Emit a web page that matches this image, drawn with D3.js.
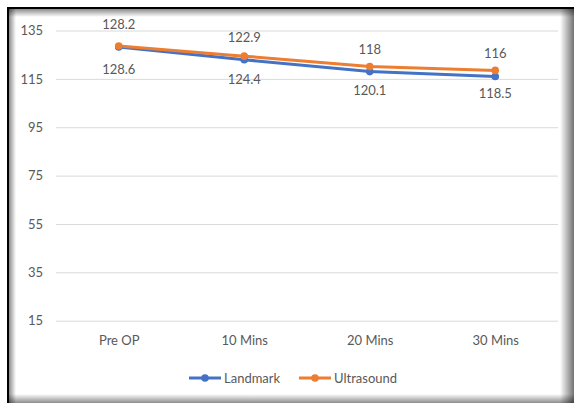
<!DOCTYPE html>
<html>
<head>
<meta charset="utf-8">
<script src="https://cdn.jsdelivr.net/npm/d3@7"></script>
<style>
  html, body { margin: 0; padding: 0; background: #ffffff; }
  svg { display: block; }
  text { font-family: Lato, "Open Sans", sans-serif; fill: #595959; }
</style>
</head>
<body>
<script>
// Time points and mean values for each technique
const categories = ["Pre OP", "10 Mins", "20 Mins", "30 Mins"];
const landmark = [128.2, 122.9, 118, 116];
const ultrasound = [128.6, 124.4, 120.1, 118.5];
const yTicks = [15, 35, 55, 75, 95, 115, 135];
const seriesNames = ["Landmark", "Ultrasound"];
const seriesColors = ["#4472C4", "#ED7D31"];

(function () {
const W = 574, H = 403;
const svg = d3.select("body").append("svg").attr("width", W).attr("height", H);

// Frame with inner and drop shadows
const defs = svg.append("defs");
function grad(id, x1, y1, x2, y2, stops) {
  const g = defs.append("linearGradient").attr("id", id)
    .attr("x1", x1).attr("y1", y1).attr("x2", x2).attr("y2", y2);
  stops.forEach(s => g.append("stop").attr("offset", s[0]).attr("stop-color", s[1]).attr("stop-opacity", s[2]));
}
grad("shTop", 0, 0, 0, 1, [[0, "#000", 0.45], [1, "#000", 0]]);
grad("shLeft", 0, 0, 1, 0, [[0, "#000", 0.45], [1, "#000", 0]]);
grad("shRight", 0, 0, 1, 0, [[0, "#000", 0], [1, "#000", 0.55]]);
grad("shBottom", 0, 0, 0, 1, [[0, "#000", 0], [1, "#000", 0.45]]);

svg.append("rect").attr("x", 0).attr("y", 0).attr("width", W).attr("height", H).attr("fill", "#fff");
svg.append("rect").attr("x", 9).attr("y", 9).attr("width", W - 9).attr("height", 8).attr("fill", "url(#shTop)");
svg.append("rect").attr("x", 9).attr("y", 9).attr("width", 7).attr("height", H - 9).attr("fill", "url(#shLeft)");
svg.append("rect").attr("x", W - 14).attr("y", 9).attr("width", 14).attr("height", H - 9).attr("fill", "url(#shRight)");
svg.append("rect").attr("x", 9).attr("y", H - 9).attr("width", W - 9).attr("height", 9).attr("fill", "url(#shBottom)");
svg.append("line").attr("x1", 7).attr("x2", W).attr("y1", 8).attr("y2", 8).attr("stroke", "#000").attr("stroke-width", 2);
svg.append("line").attr("x1", 8).attr("x2", 8).attr("y1", 7).attr("y2", H).attr("stroke", "#000").attr("stroke-width", 2);

// Plot area
const pLeft = 56, pRight = 558, pTop = 30.5, pBottom = 320.7;
const x = d3.scalePoint().domain(categories).range([pLeft, pRight]).padding(0.5);
const y = d3.scaleLinear().domain([15, 135]).range([pBottom, pTop]);

// Gridlines and value axis labels
const yAxis = d3.axisLeft(y).tickValues(yTicks).tickSize(-(pRight - pLeft)).tickPadding(13).tickFormat(d3.format("d"));
const gy = svg.append("g").attr("transform", `translate(${pLeft},0)`).call(yAxis);
gy.select(".domain").remove();
gy.selectAll(".tick line").attr("stroke", "#d9d9d9").attr("stroke-width", 1);
gy.selectAll(".tick text").attr("font-size", 13).attr("fill", "#595959").style("font-family", "Lato, sans-serif");

// Category axis labels
const xAxis = d3.axisBottom(x).tickSize(0).tickPadding(15);
const gx = svg.append("g").attr("transform", `translate(0,${pBottom})`).call(xAxis);
gx.select(".domain").remove();
gx.selectAll(".tick text").attr("font-size", 13).attr("fill", "#595959").style("font-family", "Lato, sans-serif");

// Series lines, markers and value labels
const series = [landmark, ultrasound];
const labelOffset = [-23, 23];
const line = d3.line().x((d, i) => x(categories[i])).y(d => y(d));
series.forEach((vals, s) => {
  svg.append("path").datum(vals).attr("d", line)
    .attr("fill", "none").attr("stroke", seriesColors[s]).attr("stroke-width", 3).attr("stroke-linejoin", "round");
});
series.forEach((vals, s) => {
  svg.selectAll(null).data(vals).enter().append("circle")
    .attr("cx", (d, i) => x(categories[i])).attr("cy", d => y(d)).attr("r", 3.8)
    .attr("fill", seriesColors[s]);
});
series.forEach((vals, s) => {
  svg.selectAll(null).data(vals).enter().append("text")
    .attr("x", (d, i) => x(categories[i])).attr("y", d => y(d) + labelOffset[s])
    .attr("text-anchor", "middle").attr("dominant-baseline", "central")
    .attr("font-size", 13).text(d => d);
});

// Legend
const legendItems = [{ x: 189, tx: 224 }, { x: 299, tx: 334 }];
legendItems.forEach((it, s) => {
  const g = svg.append("g").attr("transform", `translate(0,378)`);
  g.append("line").attr("x1", it.x).attr("x2", it.x + 32).attr("y1", 0).attr("y2", 0)
    .attr("stroke", seriesColors[s]).attr("stroke-width", 3);
  g.append("circle").attr("cx", it.x + 16).attr("cy", 0).attr("r", 3.8).attr("fill", seriesColors[s]);
  g.append("text").attr("x", it.tx).attr("y", 0).attr("dominant-baseline", "central")
    .attr("font-size", 13).text(seriesNames[s]);
});
})();
</script>
</body>
</html>
